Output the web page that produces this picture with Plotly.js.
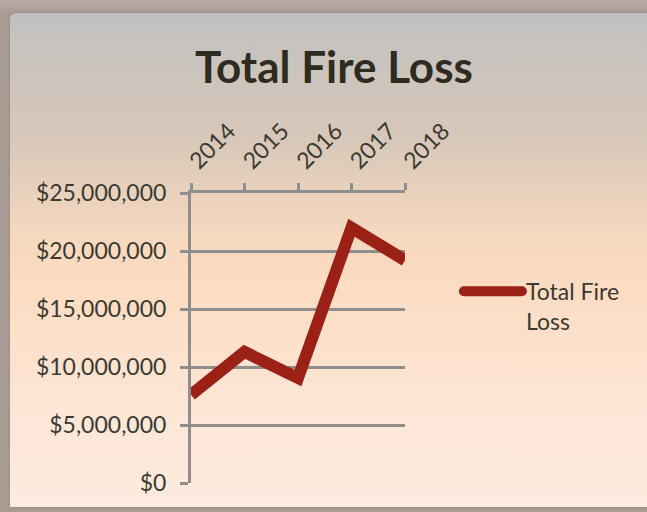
<!DOCTYPE html>
<html>
<head>
<meta charset="utf-8">
<script src="https://cdn.plot.ly/plotly-3.0.1.min.js"></script>
<style>
    html, body { margin: 0; padding: 0; }
    body {
        width: 647px; height: 512px; overflow: hidden; position: relative;
        background: linear-gradient(to bottom, #b9aca6 0px, #a89c95 14px, #a89c95 100%);
    }
    #frame {
        position: absolute; left: 10px; top: 13px; width: 650px; height: 494px;
        border-radius: 6px 0 0 0;
        background: linear-gradient(to bottom, #c1c1c1 0%, #d7c7b9 25%, #f6d8bf 45%, #fcdcc2 55%, #fde6d6 80%, #fdebdf 100%);
        box-shadow: 0 0 3px rgba(120,110,100,0.6);
    }
    #chart { position: absolute; left: 0; top: 0; width: 647px; height: 512px; }
</style>
</head>
<body>
<div id="frame"></div>
<div id="chart"></div>
<script>
// data
const years = ["2014", "2015", "2016", "2017", "2018"];
const fireLoss = [7600000, 11300000, 9050000, 22000000, 19200000];
const yTicks = [0, 5000000, 10000000, 15000000, 20000000, 25000000];
const yTickText = ["$0", "$5,000,000", "$10,000,000", "$15,000,000", "$20,000,000", "$25,000,000"];

const textColor = "#3b3a31";
const gridColor = "#8e8e8e";
const font = "Lato, 'Open Sans', sans-serif";

Plotly.newPlot("chart", [
    {
        x: years,
        y: fireLoss,
        mode: "lines",
        type: "scatter",
        name: "Total Fire<br>Loss",
        line: { color: "#9b2116", width: 12 }
    }
], {
    width: 647,
    height: 512,
    margin: { l: 191, r: 242, t: 193, b: 29 },
    paper_bgcolor: "rgba(0,0,0,0)",
    plot_bgcolor: "rgba(0,0,0,0)",
    font: { family: font, color: textColor, size: 23 },
    title: {
        text: "<b>Total Fire Loss</b>",
        font: { family: font, size: 44, color: "#2e2b20" },
        x: 0.516, xanchor: "center",
        y: 0.868, yanchor: "middle"
    },
    showlegend: true,
    legend: {
        x: 1.252, xanchor: "left",
        y: 0.735, yanchor: "top",
        valign: "top",
        itemwidth: 57,
        bgcolor: "rgba(0,0,0,0)",
        font: { family: font, size: 23, color: textColor }
    },
    xaxis: {
        type: "category",
        side: "top",
        range: [0, 4],
        tickangle: -45,
        showgrid: false,
        showline: true,
        linecolor: gridColor,
        linewidth: 3,
        ticks: "outside",
        ticklen: 7,
        tickwidth: 3,
        tickcolor: gridColor,
        tickfont: { family: font, size: 23, color: textColor },
        zeroline: false
    },
    yaxis: {
        range: [0, 25000000],
        tickvals: yTicks,
        ticktext: yTickText,
        showgrid: true,
        gridcolor: gridColor,
        gridwidth: 3,
        showline: true,
        linecolor: gridColor,
        linewidth: 3,
        ticks: "outside",
        ticklen: 8,
        tickwidth: 3,
        tickcolor: gridColor,
        ticklabelstandoff: 9,
        tickfont: { family: font, size: 23, color: textColor },
        zeroline: false
    }
}, { displayModeBar: false, staticPlot: true }).then(gd => {
    // longer, round-capped legend line like the original
    gd.querySelectorAll(".legendlines path").forEach(p => {
        p.setAttribute("d", "M5,0h58");
        p.style.strokeLinecap = "round";
    });
});
</script>
</body>
</html>
